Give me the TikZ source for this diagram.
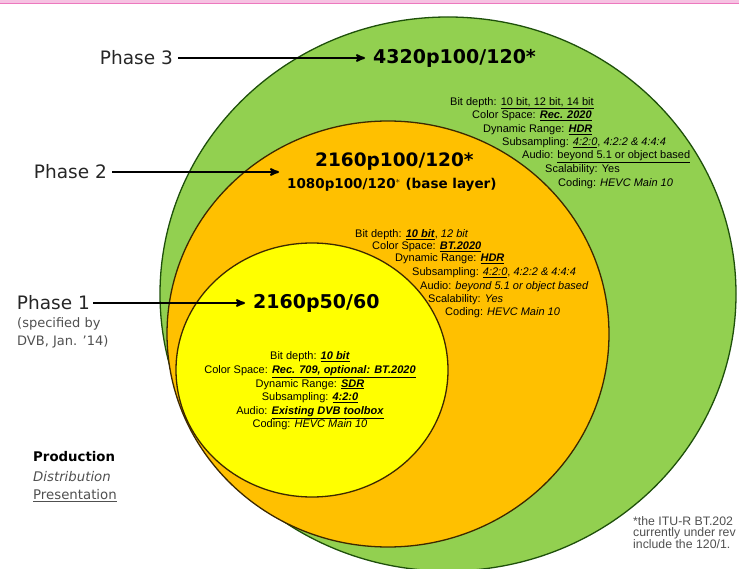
\documentclass[tikz,border=0pt]{standalone}
\usepackage{fontspec}
\setmainfont{Liberation Sans}
\newfontfamily\vfont{DejaVu Sans}
\usepackage{tikz}
\usetikzlibrary{arrows,positioning}
\definecolor{ringgreen}{RGB}{146,208,80}
\definecolor{ringorange}{RGB}{255,192,0}
\definecolor{ringyellow}{RGB}{255,255,0}
\definecolor{edgegreen}{RGB}{30,80,10}
\definecolor{edgebrown}{RGB}{60,40,0}
\definecolor{topline}{RGB}{236,120,190}
\definecolor{notegray}{RGB}{80,80,80}
\newcommand{\spechi}[1]{\underline{\textbf{\textit{#1}}}}
\newcommand{\specul}[1]{\underline{#1}}
\tikzset{
    >=stealth',
    ring/.style={line width=1.3pt},
    phase/.style={font=\vfont\fontsize{18.5}{20}\selectfont, anchor=east, inner sep=0pt, text=black!85},
    res/.style={font=\vfont\bfseries\fontsize{19}{21}\selectfont, anchor=west, inner sep=0pt},
    spec/.style={font=\fontsize{11}{13}\selectfont, anchor=west, inner sep=0pt},
    legend/.style={font=\vfont\fontsize{13.3}{20}\selectfont, anchor=west, inner sep=0pt},
    note/.style={font=\fontsize{12.3}{11.8}\selectfont, anchor=west, inner sep=0pt, text=notegray},
    pointer/.style={->, line width=2pt, shorten <=5pt, shorten >=8pt},
}

\begin{document}
\begin{tikzpicture}[x=1pt, y=-1pt]
\useasboundingbox (0,0) rectangle (739,569);
\clip (0,0) rectangle (739,569);

% top border
\fill[topline!45] (0,0) rectangle (739,3);
\draw[topline, line width=1.2pt] (0,3.5) -- (739,3.5);

% the three rings
\draw[ring, fill=ringgreen, draw=edgegreen] (448,294) ellipse [x radius=288, y radius=277];
\draw[ring, fill=ringorange, draw=edgebrown] (388,334) ellipse [x radius=221, y radius=213];
\draw[ring, fill=ringyellow, draw=edgebrown] (312,370) ellipse [x radius=136, y radius=127];

% phases and formats
\node [phase] (phase3) at (173,58) {Phase 3};
\node [phase] (phase2) at (107,172) {Phase 2};
\node [phase] (phase1) at (90,303) {Phase 1};
\node [legend, font=\vfont\fontsize{13}{18}\selectfont, text=notegray, align=left, anchor=north west]
  (phase1note) at (17,317) {(specified by\\DVB, Jan. ’14)};

\node [res] (res3) at (373,58) {4320p100/120*};
\node [res, font=\vfont\bfseries\fontsize{18.5}{21}\selectfont] (res2) at (315,162) {2160p100/120*};
\node [res, font=\vfont\bfseries\fontsize{13.5}{15}\selectfont] (res2base) at (287,185) {1080p100/120$^*$ (base layer)};
\node [res, font=\vfont\bfseries\fontsize{19}{21}\selectfont] (res1) at (253,303) {2160p50/60};

\draw [pointer] (phase3.east) -- (res3.west);
\draw [pointer] (phase2.east) -- (phase2.east -| res2base.west);
\draw [pointer, shorten <=3pt] (phase1.east) -- (res1.west);

% phase 3 parameters
\foreach \px/\py/\txt [count=\i] in {
    450/103/{Bit depth: \specul{10 bit, 12 bit, 14 bit}},
    472/116/{Color Space: \spechi{Rec. 2020}},
    483/130/{Dynamic Range: \spechi{HDR}},
    502/143/{Subsampling: \specul{\textit{4:2:0}}, \textit{4:2:2 \& 4:4:4}},
    522/157/{Audio: \specul{beyond 5.1 or object based}},
    545/170/{Scalability: Yes},
    558/184/{Coding: \textit{HEVC Main 10}}}
  \node [spec] (p3spec-\i) at (\px,\py) {\txt};

% phase 2 parameters
\foreach \px/\py/\txt [count=\i] in {
    355/235/{Bit depth: \spechi{10 bit}, \textit{12 bit}},
    372/247/{Color Space: \spechi{BT.2020}},
    395/259/{Dynamic Range: \spechi{HDR}},
    412/273/{Subsampling: \specul{\textit{4:2:0}}, \textit{4:2:2 \& 4:4:4}},
    420/287/{Audio: \textit{beyond 5.1 or object based}},
    428/300/{Scalability: \textit{Yes}},
    445/313/{Coding: \textit{HEVC Main 10}}}
  \node [spec] (p2spec-\i) at (\px,\py) {\txt};

% phase 1 parameters
\node [spec, anchor=center, align=center, font=\fontsize{11}{13.6}\selectfont] (p1spec) at (310,391)
  {Bit depth: \spechi{10 bit}\\
   Color Space: \spechi{Rec. 709, optional: BT.2020}\\
   Dynamic Range: \spechi{SDR}\\
   Subsampling: \spechi{4:2:0}\\
   Audio: \spechi{Existing DVB toolbox}\\
   Coding: \textit{HEVC Main 10}};

% legend
\node [legend, font=\vfont\bfseries\fontsize{13.3}{16}\selectfont] (production) at (33,457) {Production};
\node [legend, font=\vfont\itshape\fontsize{13.3}{16}\selectfont, text=notegray] (distribution) at (33,477) {Distribution};
\node [legend, text=notegray] (presentation) at (33,496) {\underline{Presentation}};

% footnote
\node [note, align=left, anchor=north west] (footnote) at (633,516)
  {*the ITU-R BT.202\\currently under rev\\include the 120/1.};

\end{tikzpicture}
\end{document}
